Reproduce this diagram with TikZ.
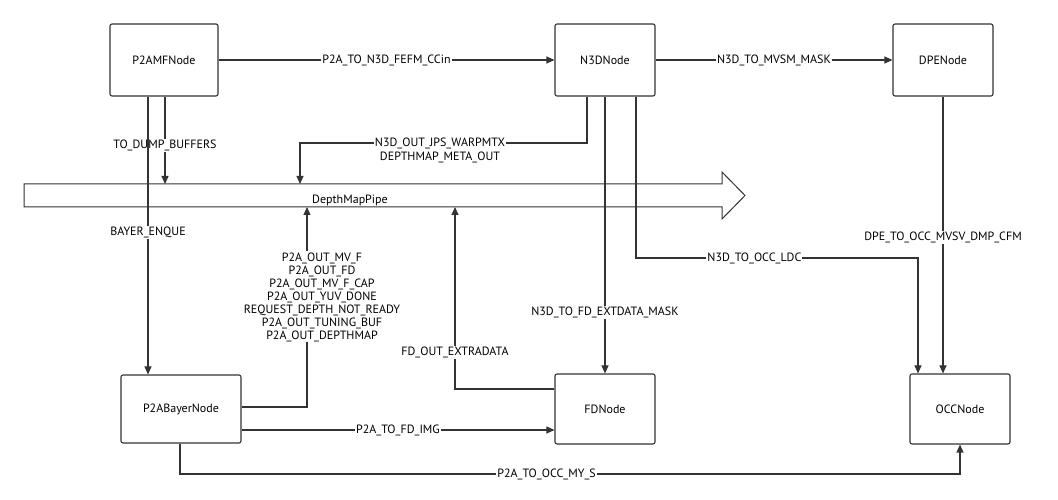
\documentclass[tikz,border=0pt]{standalone}
\usepackage{fontspec}
\setmainfont{PT Sans}
\usetikzlibrary{arrows.meta}

\begin{document}
\begin{tikzpicture}
[x=1pt,y=1pt,>={Triangle[length=8pt,width=7pt]},line width=1.1pt,draw=black!80,
box/.style={draw=black!80,rounded corners=2pt,minimum width=100pt,minimum height=70pt,font=\fontsize{12}{14}\selectfont},
lbl/.style={fill=white,inner sep=1pt,font=\fontsize{12}{14}\selectfont,align=center},]

\useasboundingbox (0,0) rectangle (1058,500);

%Nodes (y measured from the top)
\node (MF) at (164,440)[box,minimum width=108pt,minimum height=72pt] {P2AMFNode};
\node (NTD) at (605,440)[box,minimum height=72pt] {N3DNode};
\node (DPE) at (943,440)[box,minimum height=72pt] {DPENode};
\node (BAY) at (181,91)[box,minimum width=120pt,minimum height=68pt] {P2ABayerNode};
\node (FD) at (605,91)[box] {FDNode};
\node (OCC) at (960,91)[box] {OCCNode};

%Pipe
\draw[line width=1pt] (24,316) -- (722,316) -- (722,328) -- (745,304.5) -- (722,281)
  -- (722,293) -- (24,293) -- cycle;
\node (PIPE) at (350,300)[font=\fontsize{12}{14}\selectfont] {DepthMapPipe};
\coordinate (PT1) at (165,316);
\coordinate (PT2) at (300,316);
\coordinate (PB1) at (307,293);
\coordinate (PB2) at (455,293);
\coordinate (NC1) at (587,357);
\coordinate (NC2) at (636,242);
\coordinate (OC1) at (918,242);
\coordinate (BC1) at (180,26);
\coordinate (OC2) at (960,26);

%Top row
\draw[->] (MF) -- node[lbl] {P2A\_TO\_N3D\_FEFM\_CCin} (NTD);
\draw[->] (NTD) -- node[lbl] {N3D\_TO\_MVSM\_MASK} (DPE);

%Into the pipe
\draw[->] (MF.south -| PT1) -- node[lbl,pos=.56] {TO\_DUMP\_BUFFERS} (PT1);
\draw[->] (NTD.south -| NC1) -- (NC1) -| (PT2);
\node at (440,350)[lbl] {N3D\_OUT\_JPS\_WARPMTX\\DEPTHMAP\_META\_OUT};
\draw[->] (BAY.east |- 0,93) -| (PB1);
\node at (322,203)[lbl,font=\fontsize{12}{13}\selectfont] {P2A\_OUT\_MV\_F\\P2A\_OUT\_FD\\P2A\_OUT\_MV\_F\_CAP\\P2A\_OUT\_YUV\_DONE\\REQUEST\_DEPTH\_NOT\_READY\\P2A\_OUT\_TUNING\_BUF\\P2A\_OUT\_DEPTHMAP};
\draw[->] (FD.west |- 0,111) -| node[lbl,pos=.6] {FD\_OUT\_EXTRADATA} (PB2);

%Downward
\draw[->] (MF.south -| 148,0) -- node[lbl,pos=.49] {BAYER\_ENQUE} (BAY.north -| 148,0);
\draw[->] (NTD.south) -- node[lbl,pos=.78] {N3D\_TO\_FD\_EXTDATA\_MASK} (FD.north);
\draw[->] (NTD.south -| NC2) -- (NC2) -- node[lbl,pos=.42] {N3D\_TO\_OCC\_LDC} (OC1) -- (OCC.north -| OC1);
\draw[->] (DPE.south) -- node[lbl,pos=.51] {DPE\_TO\_OCC\_MVSV\_DMP\_CFM} (OCC.north -| DPE.south);

%Bottom
\draw[->] (BAY.east |- 0,70) -- node[lbl] {P2A\_TO\_FD\_IMG} (FD.west |- 0,70);
\draw[->] (BAY.south -| BC1) -- (BC1) -- node[lbl,pos=.47] {P2A\_TO\_OCC\_MY\_S} (OC2) -- (OCC.south);

\end{tikzpicture}
\end{document}
